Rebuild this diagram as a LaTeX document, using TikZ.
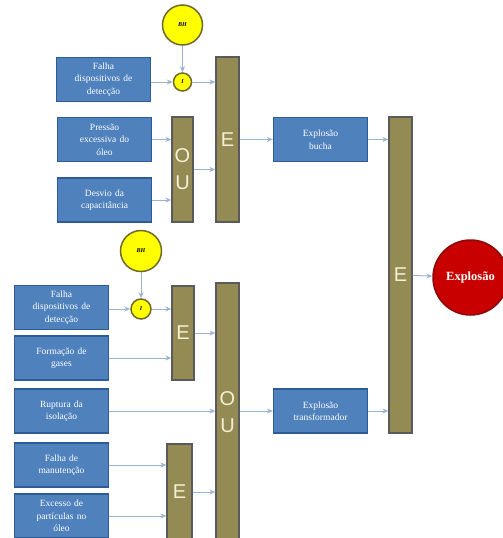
\documentclass[tikz,border=0pt]{standalone}
\usepackage{fontspec}
\setmainfont{Liberation Serif}
\newfontfamily\gatefont{Liberation Sans}
\usetikzlibrary{arrows.meta}
\definecolor{boxblue}{HTML}{4F81BD}
\definecolor{boxedge}{HTML}{2E5A96}
\definecolor{gatefill}{HTML}{948A54}
\definecolor{gateedge}{HTML}{5A5A5A}
\definecolor{gatetext}{HTML}{F4F0D4}
\definecolor{arrowc}{HTML}{9AB3D2}
\definecolor{yelfill}{HTML}{FFFF00}
\definecolor{yeledge}{HTML}{6E6A2C}
\definecolor{redfill}{HTML}{C80000}
\definecolor{rededge}{HTML}{8A0A0A}
\begin{document}
\begin{tikzpicture}[x=1pt,y=-1pt,
  evt/.style={draw=boxedge, line width=1.3pt, fill=boxblue, text=white,
    font=\fontsize{9.5}{12.5}\selectfont, align=center, inner sep=0pt,
    minimum width=94pt, minimum height=44pt, text width=90pt},
  gate/.style={draw=gateedge, line width=1.3pt, fill=gatefill, text=gatetext,
    font=\gatefont\fontsize{20}{27}\selectfont, align=center, inner sep=0pt},
  yc/.style={circle, draw=yeledge, line width=1.5pt, fill=yelfill, inner sep=0pt,
    font=\fontsize{6}{7}\selectfont\itshape\bfseries},
  redc/.style={circle, draw=rededge, line width=1.5pt, fill=redfill, inner sep=0pt,
    text=white, font=\fontsize{12.5}{14}\selectfont\bfseries},
  arr/.style={draw=arrowc, line width=1pt, -{Stealth[length=6pt,width=5pt,open]}}
]
\clip (0,0) rectangle (503,538);
\fill[white] (0,0) rectangle (503,538);

% top branch
\node[yc, minimum size=40pt] (bh1) at (182.5,25) {BH};
\node[yc, minimum size=18pt] (i1) at (182.5,82) {I};
\node[evt] (b1) at (103.5,79.5) {Falha\\dispositivos de\\detecção};
\node[evt] (b2) at (104.5,139.5) {Pressão\\excessiva do\\óleo};
\node[evt] (b3) at (104.5,200) {Desvio da\\capacitância};
\node[gate, minimum width=21pt, minimum height=105pt] (ou1) at (182.5,169.5) {O\\U};
\node[gate, minimum width=23pt, minimum height=165pt] (e1) at (227.5,139.5) {E};
\node[evt] (bu) at (320.5,139.5) {Explosão\\bucha};

% final
\node[gate, minimum width=23pt, minimum height=316pt] (ef) at (400.5,275) {E};
\node[redc, minimum size=75pt] (ex) at (470.5,277.5) {Explosão};

% bottom branch
\node[yc, minimum size=41pt] (bh2) at (141,251) {BH};
\node[yc, minimum size=20pt] (i2) at (141,309) {I};
\node[evt] (b4) at (61.5,307.5) {Falha\\dispositivos de\\detecção};
\node[evt] (b5) at (61.5,358) {Formação de\\gases};
\node[gate, minimum width=22pt, minimum height=94pt] (e2) at (183,333) {E};
\node[gate, minimum width=23pt, minimum height=258pt] (ou2) at (227.5,412) {O\\U};
\node[evt] (b6) at (61.5,411) {Ruptura da\\isolação};
\node[evt] (tr) at (320.5,411) {Explosão\\transformador};
\node[evt] (b7) at (61.5,465) {Falha de\\manutenção};
\node[evt] (b8) at (61.5,516) {Excesso de\\partículas no\\óleo};
\node[gate, minimum width=25pt, minimum height=96pt] (e3) at (179.5,492) {E};

% connectors top
\draw[arr] (bh1) -- (i1);
\draw[arr] (b1.east |- i1) -- (i1);
\draw[arr] (i1) -- (i1 -| e1.west);
\draw[arr] (b2) -- (b2 -| ou1.west);
\draw[arr] (b3) -- (b3 -| ou1.west);
\draw[arr] (ou1) -- (ou1 -| e1.west);
\draw[arr] (e1.east |- bu) -- (bu);
\draw[arr] (bu) -- (bu -| ef.west);
\draw[arr] (ef) -- (ex);

% connectors bottom
\draw[arr] (bh2) -- (i2);
\draw[arr] (b4.east |- i2) -- (i2);
\draw[arr] (i2) -- (i2 -| e2.west);
\draw[arr] (b5) -- (b5 -| e2.west);
\draw[arr] (e2) -- (e2 -| ou2.west);
\draw[arr] (b6) -- (b6 -| ou2.west);
\draw[arr] (ou2.east |- tr) -- (tr);
\draw[arr] (tr) -- (tr -| ef.west);
\draw[arr] (b7) -- (b7 -| e3.west);
\draw[arr] (b8) -- (b8 -| e3.west);
\draw[arr] (e3) -- (e3 -| ou2.west);
\end{tikzpicture}
\end{document}
